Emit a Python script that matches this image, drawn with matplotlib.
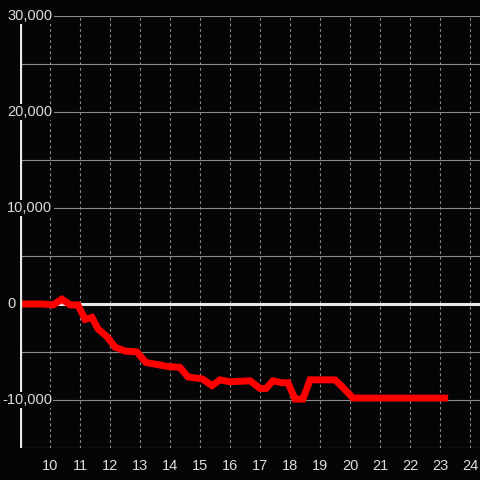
import matplotlib
matplotlib.use("Agg")
import matplotlib.pyplot as plt
from matplotlib.transforms import blended_transform_factory

# data
x = [9.0, 9.77, 10.1, 10.4, 10.67, 10.93, 11.17, 11.4, 11.6, 11.9, 12.17, 12.5,
     12.9, 13.2, 13.57, 13.9, 14.33, 14.6, 15.07, 15.4, 15.67, 16.0, 16.67, 17.0,
     17.2, 17.43, 17.73, 17.93, 18.17, 18.43, 18.67, 19.5, 19.67, 20.1, 23.27]
y = [0, 0, -100, 500, -100, -100, -1600, -1400, -2600, -3400, -4500, -4900,
     -5000, -6100, -6300, -6500, -6600, -7600, -7800, -8500, -7900, -8100, -8000, -8800,
     -8800, -8000, -8200, -8200, -9900, -9900, -7900, -7900, -8400, -9800, -9800]

y_ticks = [-10000, 0, 10000, 20000, 30000]
y_grid = [-15000, -5000, 5000, 15000, 25000]
x_ticks = list(range(10, 25))

bg = "#050508"
grid_col = "#8a8a8a"
txt_col = "#dcdcdc"

fig = plt.figure(figsize=(4.8, 4.8), dpi=100, facecolor=bg)
ax = fig.add_axes([20 / 480, 32 / 480, 460 / 480, 432 / 480])
ax.set_facecolor(bg)
ax.set_xlim(9, 9 + 460 / 30)
ax.set_ylim(-15000, 30000)

for v in x_ticks:
    ax.axvline(v, color=grid_col, lw=0.8, ls=(0, (2.5, 2.5)), zorder=1)
for v in y_grid + y_ticks:
    ax.axhline(v, color=grid_col, lw=0.8, zorder=1)
ax.axhline(0, color="#e8e8e8", lw=2.2, zorder=2)

ax.plot(x, y, color="#ff0000", lw=5.0, solid_joinstyle="miter",
        solid_capstyle="butt", zorder=3)

for s in ax.spines.values():
    s.set_visible(False)
ax.axvline(9.03, color="#e8e8e8", lw=1.6, zorder=4)

ax.set_xticks(x_ticks)
ax.set_xticklabels([str(v) for v in x_ticks])
ax.set_yticks([])
ax.tick_params(axis="x", length=0, pad=8, colors=txt_col, labelsize=10.5)
for lab in ax.get_xticklabels():
    lab.set_fontfamily("Liberation Sans")

trans = blended_transform_factory(fig.transFigure, ax.transData)
for v in y_ticks:
    label = f"{v:,}"
    px = 2 if label.startswith("-") else 7
    ax.text(px / 480, v, label, transform=trans,
            ha="left", va="center", color=txt_col, fontsize=10.5, family="Liberation Sans",
            bbox=dict(boxstyle="square,pad=0.1", fc=bg, ec="none"), zorder=6, clip_on=False)

fig.savefig("out.png", dpi=100, facecolor=bg)
